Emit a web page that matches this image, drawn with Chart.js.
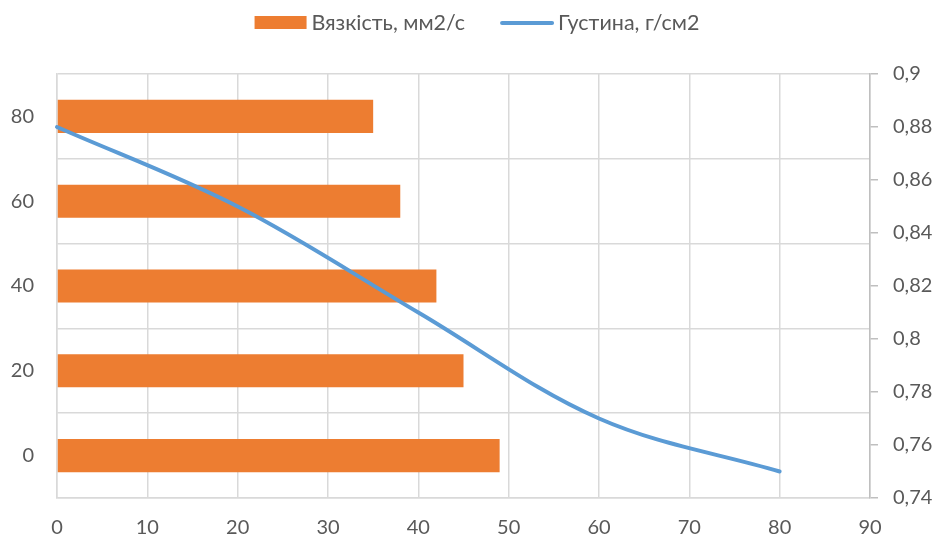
<!DOCTYPE html>
<html>
<head>
<meta charset="utf-8">
<script src="https://cdn.jsdelivr.net/npm/chart.js@4/dist/chart.umd.min.js"></script>
<style>
  html, body { margin: 0; padding: 0; background: #ffffff; }
  #wrap { width: 940px; height: 541px; position: relative; }
</style>
</head>
<body>
<div id="wrap"><canvas id="chart" width="940" height="541"></canvas></div>
<script>
// Temperature points (°C) shared by both series
const categories = [0, 20, 40, 60, 80];
// Kinematic viscosity, mm2/s
const viscosity = [49, 45, 42, 38, 35];
// Density, g/cm2
const density = [0.88, 0.85, 0.81, 0.77, 0.75];
const seriesNames = ['Вязкість, мм2/с', 'Густина, г/см2'];

const FONT = 'Lato, "Open Sans", "Liberation Sans", sans-serif';
const TEXT = '#595959';
const GRID = '#D9D9D9';
const BAR = '#ED7D31';
const LINE = '#5B9BD5';

// Legend drawn across the top: swatch + label for each series
const topLegend = {
  id: 'topLegend',
  afterDraw(chart) {
    const ctx = chart.ctx;
    ctx.save();
    ctx.font = '21.5px ' + FONT;
    ctx.fillStyle = TEXT;
    ctx.textBaseline = 'middle';
    const sw = 52, gap = 5, between = 36;
    const items = chart.data.datasets.map(ds => ({ ds, w: ctx.measureText(ds.label).width }));
    const total = items.reduce((s, it) => s + sw + gap + it.w, 0) + between * (items.length - 1);
    let x = 477 - total / 2;
    const cy = 23;
    items.forEach(it => {
      if (it.ds.type === 'line') {
        ctx.strokeStyle = it.ds.borderColor;
        ctx.lineWidth = 4;
        ctx.lineCap = 'round';
        ctx.beginPath();
        ctx.moveTo(x + 1, cy);
        ctx.lineTo(x + sw - 1, cy);
        ctx.stroke();
      } else {
        ctx.fillStyle = it.ds.backgroundColor;
        ctx.fillRect(x, cy - 7, sw, 13);
      }
      ctx.fillStyle = TEXT;
      ctx.fillText(it.ds.label, x + sw + gap, cy);
      x += sw + gap + it.w + between;
    });
    ctx.restore();
  }
};

const fmtComma = v => String(Number(v.toFixed(2))).replace('.', ',');

function draw() {
  new Chart(document.getElementById('chart'), {
    type: 'bar',
    data: {
      labels: categories.map(String),
      datasets: [
        {
          type: 'bar',
          label: seriesNames[0],
          data: viscosity,
          indexAxis: 'y',
          xAxisID: 'x',
          yAxisID: 'y',
          backgroundColor: BAR,
          borderWidth: 0,
          barPercentage: 0.39,
          categoryPercentage: 1,
          order: 2
        },
        {
          type: 'line',
          label: seriesNames[1],
          data: categories.map((c, i) => ({ x: c, y: density[i] })),
          indexAxis: 'x',
          xAxisID: 'x',
          yAxisID: 'y2',
          borderColor: LINE,
          backgroundColor: LINE,
          borderWidth: 4,
          borderCapStyle: 'round',
          pointRadius: 0,
          tension: 0.35,
          fill: false,
          clip: 4,
          order: 1
        }
      ]
    },
    options: {
      responsive: false,
      animation: false,
      layout: { padding: { top: 74, left: 0, right: 0, bottom: 0 } },
      plugins: {
        legend: { display: false },
        tooltip: { enabled: false }
      },
      scales: {
        x: {
          type: 'linear',
          axis: 'x',
          position: 'bottom',
          min: 0,
          max: 90,
          offset: false,
          grid: { color: GRID, lineWidth: 1.5, drawTicks: false, offset: false },
          border: { color: GRID, width: 1.5 },
          ticks: { stepSize: 10, color: TEXT, font: { family: FONT, size: 20 }, padding: 18, maxRotation: 0 },
          afterFit: s => { s.height = 541 - 498; }
        },
        y: {
          type: 'category',
          axis: 'y',
          position: 'left',
          reverse: true,
          offset: true,
          grid: { color: GRID, lineWidth: 1.5, drawTicks: false, offset: true },
          border: { color: GRID, width: 1.5 },
          ticks: { color: TEXT, font: { family: FONT, size: 20 }, padding: 23 },
          afterFit: s => { s.width = 57; }
        },
        y2: {
          type: 'linear',
          axis: 'y',
          position: 'right',
          min: 0.74,
          max: 0.9,
          offset: false,
          grid: { drawOnChartArea: false, color: '#BFBFBF', tickLength: 8, lineWidth: 1.5 },
          border: { color: '#BFBFBF', width: 1.5 },
          ticks: { stepSize: 0.02, color: TEXT, font: { family: FONT, size: 20 }, padding: 15, callback: v => fmtComma(v) },
          afterFit: s => { s.width = 940 - 870; }
        }
      }
    },
    plugins: [topLegend]
  });
}

if (document.fonts && document.fonts.load) {
  document.fonts.load('20px Lato').then(draw, draw);
} else {
  draw();
}
</script>
</body>
</html>
